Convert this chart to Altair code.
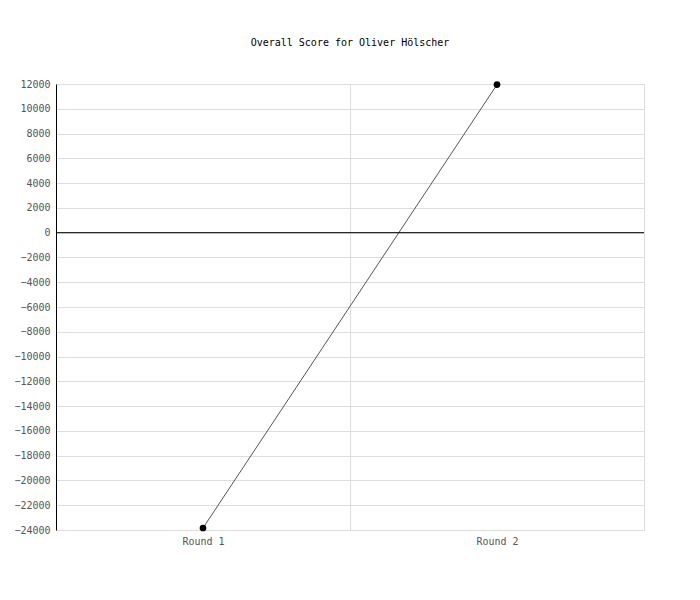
import altair as alt
import pandas as pd

rounds = ["Round 1", "Round 2"]
scores = [-23840, 11950]
y_ticks = list(range(-24000, 12001, 2000))

df = pd.DataFrame({"round": rounds, "score": scores})
zero_df = pd.DataFrame({"zero": [0]})

FONT = "DejaVu Sans Mono"

x_enc = alt.X(
    "round:N",
    title=None,
    sort=rounds,
    scale=alt.Scale(type="band", paddingInner=0, paddingOuter=0),
    axis=alt.Axis(
        labelAngle=0,
        tickBand="extent",
        grid=True,
        gridColor="#dddddd",
        domain=False,
        ticks=False,
        labelPadding=6,
        labelFont=FONT,
        labelFontSize=10,
        labelColor="#555555",
    ),
)
y_scale = alt.Scale(domain=[-24000, 12000], nice=False, zero=False)
y_axis = alt.Axis(
    values=y_ticks,
    grid=True,
    gridColor="#dddddd",
    domain=True,
    domainColor="#000000",
    ticks=False,
    labelPadding=6,
    labelOverlap=False,
    format="d",
    labelFont=FONT,
    labelFontSize=10,
    labelColor="#555555",
)
y_enc = alt.Y("score:Q", title=None, scale=y_scale, axis=y_axis)

line = alt.Chart(df).mark_line(color="#555555", strokeWidth=1).encode(x=x_enc, y=y_enc)
points = alt.Chart(df).mark_point(filled=True, color="#000000", size=45, opacity=1).encode(x=x_enc, y=y_enc)
zero = alt.Chart(zero_df).mark_rule(color="#000000", strokeWidth=1).encode(
    y=alt.Y("zero:Q", title=None, scale=y_scale, axis=y_axis)
)

chart = (
    alt.layer(line, points, zero)
    .properties(
        width=588,
        height=446,
        title=alt.TitleParams(
            "Overall Score for Oliver Hölscher",
            font=FONT,
            fontSize=10,
            fontWeight="normal",
            color="#000000",
            anchor="middle",
            offset=31,
        ),
        autosize=alt.AutoSizeParams(type="none"),
        padding={"left": 48, "top": 76, "right": 40, "bottom": 60},
    )
    .configure_view(strokeOpacity=0)
    .configure(background="white")
)

chart.save("out.html", embed_options={"renderer": "svg", "actions": False})
